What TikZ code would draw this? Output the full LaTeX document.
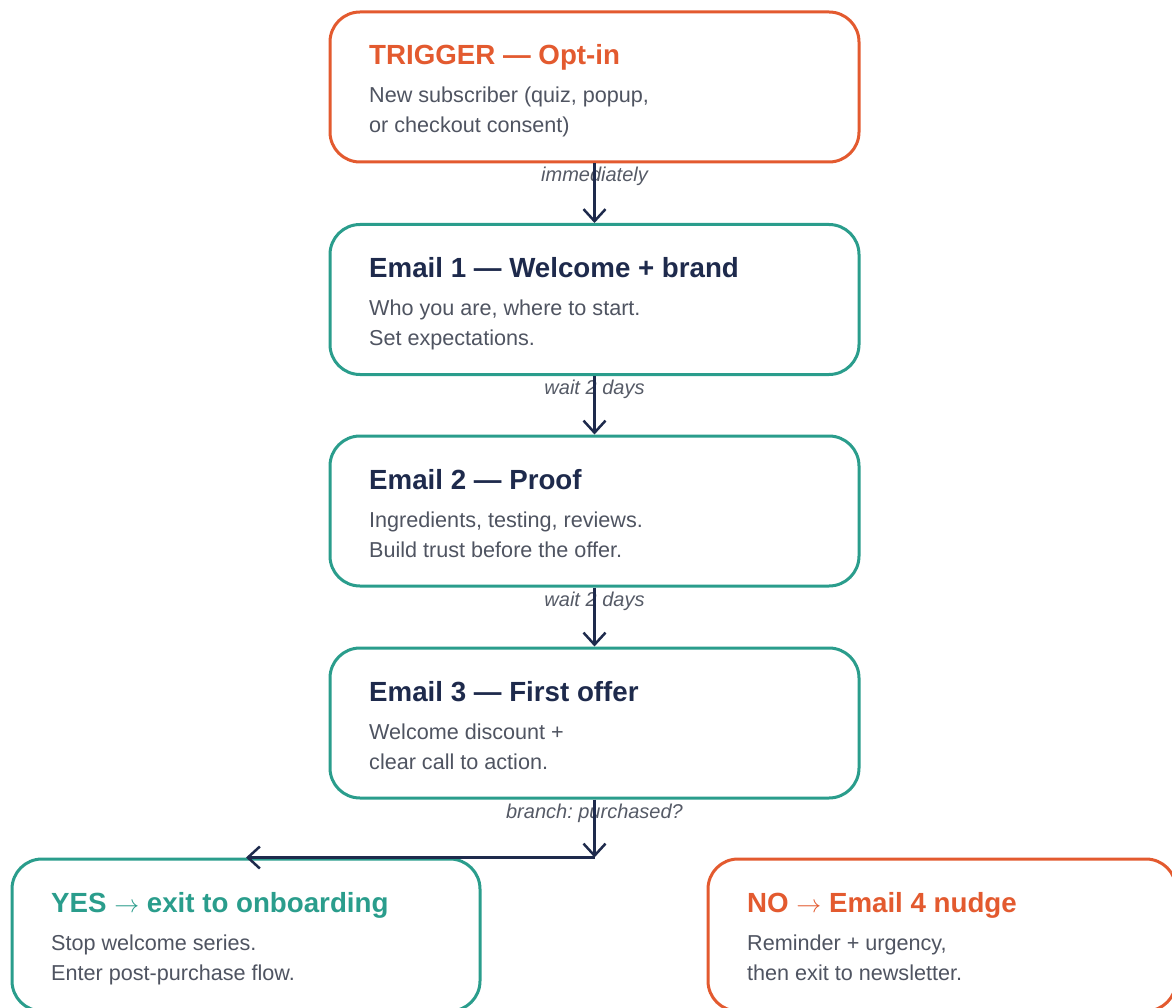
\documentclass[tikz,border=0pt]{standalone}
\usepackage{fontspec}
\setmainfont{Liberation Sans}
\usetikzlibrary{arrows.meta}
\definecolor{corange}{HTML}{E35A2F}
\definecolor{cteal}{HTML}{2A9D8C}
\definecolor{cnavy}{HTML}{1E2A4C}
\definecolor{cbody}{HTML}{4F5461}
\definecolor{clabel}{HTML}{555A66}
\frenchspacing
\begin{document}
\begin{tikzpicture}[x=1pt,y=-1pt,
  card/.style={draw=#1, line width=3pt, rounded corners=30pt, minimum width=529pt, minimum height=150pt, inner sep=0pt, fill=white},
  sidecard/.style={card=#1, minimum width=468pt, minimum height=152pt},
  ttl/.style={anchor=base west, inner sep=0pt, font=\fontsize{27.7}{32}\selectfont\bfseries, text=#1},
  bodytxt/.style={anchor=base west, inner sep=0pt, font=\fontsize{21.6}{26}\selectfont, text=cbody},
  lbl/.style={anchor=base, inner sep=0pt, font=\fontsize{20}{24}\selectfont\itshape, text=clabel},
  flow/.style={draw=cnavy, line width=2.5pt, -{Straight Barb[length=12pt,width=22pt]}}
]
\useasboundingbox (0,0) rectangle (1172,1008);

% boxes
\node[card=corange] (trigger) at (594.5,87) {};
\node[card=cteal] (e1) at (594.5,299.5) {};
\node[card=cteal] (e2) at (594.5,511) {};
\node[card=cteal] (e3) at (594.5,723) {};
\node[sidecard=cteal] (yes) at (246,935) {};
\node[sidecard=corange] (no) at (942,935) {};

% texts
\node[ttl=corange] (t0) at (369,65) {TRIGGER — Opt-in};
\node[bodytxt] (b0a) at (369,103) {New subscriber (quiz, popup,};
\node[bodytxt] (b0b) at (369,133) {or checkout consent)};

\node[ttl=cnavy] (t1) at (369,277) {Email 1 — Welcome + brand};
\node[bodytxt] (b1a) at (369,315) {Who you are, where to start.};
\node[bodytxt] (b1b) at (369,345) {Set expectations.};

\node[ttl=cnavy] (t2) at (369,489) {Email 2 — Proof};
\node[bodytxt] (b2a) at (369,527) {Ingredients, testing, reviews.};
\node[bodytxt] (b2b) at (369,557) {Build trust before the offer.};

\node[ttl=cnavy] (t3) at (369,701) {Email 3 — First offer};
\node[bodytxt] (b3a) at (369,739) {Welcome discount +};
\node[bodytxt] (b3b) at (369,769) {clear call to action.};

\node[ttl=cteal] (t4) at (51,912) {YES $\rightarrow$ exit to onboarding};
\node[bodytxt] (b4a) at (51,950) {Stop welcome series.};
\node[bodytxt] (b4b) at (51,980) {Enter post-purchase flow.};

\node[ttl=corange] (t5) at (747,912) {NO $\rightarrow$ Email 4 nudge};
\node[bodytxt] (b5a) at (747,950) {Reminder + urgency,};
\node[bodytxt] (b5b) at (747,980) {then exit to newsletter.};

% connector labels
\node[lbl] (l1) at (594.5,182) {immediately};
\node[lbl] (l2) at (594.5,394) {wait 2 days};
\node[lbl] (l3) at (594.5,606) {wait 2 days};
\node[lbl] (l4) at (594.5,818) {branch: purchased?};

% connectors
\draw[flow] (trigger.south) -- (e1.north);
\draw[flow] (e1.south) -- (e2.north);
\draw[flow] (e2.south) -- (e3.north);
\coordinate (split) at (e3.south |- yes.north);
\draw[flow] (e3.south) -- (split);
\draw[flow] (split) -- (yes.north);
\end{tikzpicture}
\end{document}
